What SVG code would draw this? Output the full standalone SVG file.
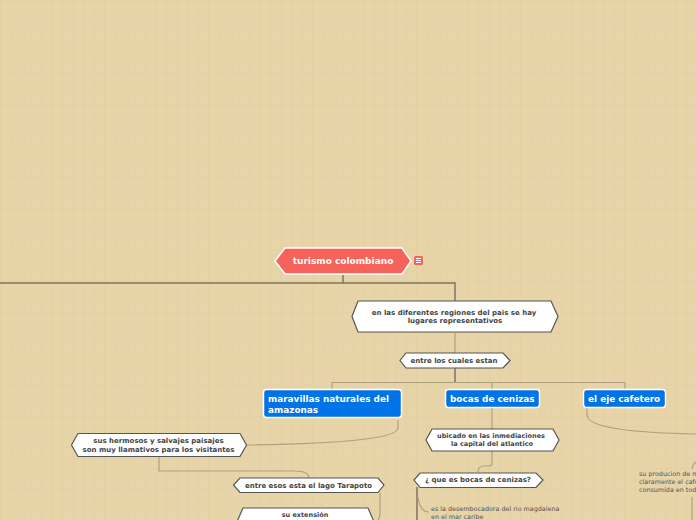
<svg xmlns="http://www.w3.org/2000/svg" width="696" height="520" viewBox="0 0 696 520">
<style>
text{font-family:"DejaVu Sans",Verdana,sans-serif;font-weight:700;text-anchor:middle;fill:#444}
.s{font-size:7px}
.n{font-size:6.500px}
.w{fill:#fff;stroke:#555;stroke-width:1.2}
.b{fill:#0073e6;stroke:#fff;stroke-width:1.5}
.bt{fill:#fff;font-size:8.900px;text-anchor:start}
.p{font-size:6.400px;font-weight:400;text-anchor:start;fill:#555}
.c{fill:none;stroke:#b0a080;stroke-width:1.2}
.d{fill:none;stroke:#7f7560;stroke-width:1.5}
</style>
<defs><pattern id="g" width="10.400" height="10.400" patternUnits="userSpaceOnUse"><rect width="10.400" height="10.400" fill="#e7d4a8"/><path d="M0 .5H10.400M.5 0V10.400" stroke="#e4d0a3" stroke-width="1"/></pattern></defs>
<rect width="696" height="520" fill="url(#g)"/>
<g id="connectors">
<path class="d" d="M0 283H455V301M343 275V283"/>
<path class="c" d="M455 333V353"/>
<path class="d" d="M455 368V382"/>
<path class="c" d="M332 390V382.500H625V390M492 382V390"/>
<path class="c" d="M398 420V428Q398 443 246 445"/>
<path class="c" d="M159 457V471H295Q309 471 309 478"/>
<path class="c" d="M380 493V512Q380 518 378 520"/>
<path class="c" d="M492 408V429"/>
<path class="c" d="M492 451V464Q492 466 488 466H484Q478 466 478 472"/>
<path class="d" d="M417 487V520"/>
<path class="c" d="M418 497Q420 512 429 512"/>
<path class="c" d="M587 408V415Q587 432 696 434"/>
<path class="c" d="M692 469Q693 463 696 462"/>
<path class="c" d="M692 497V520"/>
</g>
<g id="root"><path d="M285 248H402L411 261L402 274H285L275 261Z" fill="#f5635a" stroke="#fff" stroke-width="1.5"/><text x="343" y="264" font-size="9" style="fill:#fff">turismo colombiano</text><rect x="414" y="256" width="9" height="9" rx="1.500" fill="#f5635a"/><path d="M416 258.500H421M416 260.500H421M416 262.500H421" stroke="#fff" stroke-width="1"/></g>
<g id="n-regiones"><path class="w" d="M358 301H551L558 316.500L551 332H358L352 316.500Z"/><text class="s" x="454" y="315">en las diferentes regiones del pais se hay</text><text class="s" x="455" y="323">lugares representativos</text></g>
<g id="n-cuales"><path class="w" d="M406 353H503L510 360.500L503 368H406L400 360.500Z"/><text class="s" x="454" y="363">entre los cuales estan</text></g>
<g id="n-amazonas"><rect class="b" x="263.500" y="389.500" width="138" height="28" rx="3"/><text class="bt" x="268" y="402">maravillas naturales del</text><text class="bt" x="268" y="413">amazonas</text></g>
<g id="n-bocas"><rect class="b" x="445.500" y="389.500" width="94" height="18" rx="3"/><text class="bt" x="450" y="402">bocas de cenizas</text></g>
<g id="n-eje"><rect class="b" x="583.500" y="389.500" width="82" height="18" rx="3"/><text class="bt" x="588" y="402">el eje cafetero</text></g>
<g id="n-paisajes"><path class="w" d="M78 433.500H240L246.500 445L240 456.500H78L71.500 445Z"/><text class="s" x="158.500" y="443">sus hermosos y salvajes paisajes</text><text class="s" x="158.500" y="452">son muy llamativos para los visitantes</text></g>
<g id="n-tarapoto"><path class="w" d="M240 478H378L384 485L378 492.500H240L233.500 485Z"/><text class="s" x="308.500" y="488">entre esos esta el lago Tarapoto</text></g>
<g id="n-extension"><path class="w" d="M243 508H368L375 524H236Z"/><text class="n" x="305" y="517">su extensión</text></g>
<g id="n-ubicado"><path class="w" d="M432 429H553L559 440L553 451H432L426 440Z"/><text class="n" x="491" y="438">ubicado en las inmediaciones</text><text class="n" x="492" y="446">la capital del atlantico</text></g>
<g id="n-que"><path class="w" d="M420 473H536L543 480L536 487.500H420L414 480Z"/><text class="s" x="478" y="482">¿ que es bocas de cenizas?</text></g>
<g id="n-desembocadura"><text class="p" x="431" y="511">es la desembocadora del rio magdalena</text><text class="p" x="431" y="519">en el mar caribe</text></g>
<g id="n-produccion"><text class="p" x="639" y="476">su producion de m</text><text class="p" x="639" y="484">claramente el cafe</text><text class="p" x="639" y="492">consumida en tod</text></g>
</svg>
